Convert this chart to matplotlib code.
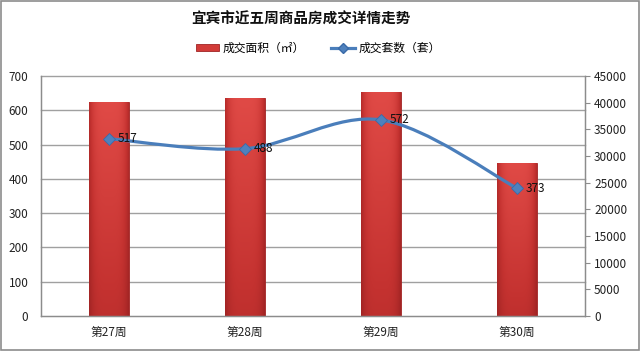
import numpy as np
import matplotlib
matplotlib.use("Agg")
import matplotlib.pyplot as plt
from matplotlib.path import Path
from matplotlib.patches import PathPatch, Rectangle
from matplotlib.lines import Line2D
from matplotlib.transforms import blended_transform_factory

plt.rcParams["font.family"] = ["Noto Sans CJK SC", "DejaVu Sans"]

# 数据
weeks = ["第27周", "第28周", "第29周", "第30周"]
area = [40100, 40900, 42000, 28700]      # 成交面积（㎡），右轴
units = [517, 488, 572, 373]             # 成交套数（套），左轴
left_ticks = [0, 100, 200, 300, 400, 500, 600, 700]
right_ticks = [0, 5000, 10000, 15000, 20000, 25000, 30000, 35000, 40000, 45000]

fig = plt.figure(figsize=(6.4, 3.51), dpi=100)
fig.patch.set_facecolor("white")
fig.add_artist(Rectangle((0.002, 0.003), 0.996, 0.994, transform=fig.transFigure,
                         fill=False, edgecolor="#8c8c8c", linewidth=1.2))

ax = fig.add_axes([41 / 640, 35 / 351, 544 / 640, 240 / 351])
ax2 = ax.twinx()
ax.set_zorder(ax2.get_zorder() + 1)
ax.patch.set_visible(False)
ax2.patch.set_visible(True)
ax2.patch.set_facecolor("white")

x = np.arange(len(weeks))

# 网格线（按左轴刻度）画在柱子下面
tr = blended_transform_factory(ax2.transAxes, ax.transData)
for t in left_ticks[1:]:
    ax2.plot([0, 1], [t, t], transform=tr, color="#a0a0a0", lw=1.0, zorder=0.5,
             clip_on=False)

# 柱子（带渐变）
bw = 0.29
bars = ax2.bar(x, area, width=bw, color="#d23b38", edgecolor="#a02424",
               linewidth=0.6, zorder=2)
grad = np.linspace(0, 1, 64).reshape(-1, 1)
hgrad = np.abs(np.linspace(-1, 1, 64)).reshape(1, -1)
cmap = matplotlib.colors.LinearSegmentedColormap.from_list(
    "r", ["#9c2222", "#c43230", "#e04a46"])
for b in bars:
    img = 1.0 - 0.55 * hgrad ** 4 - 0.0 * grad
    img = img * (0.55 + 0.45 * grad)
    im = ax2.imshow(img, extent=(b.get_x(), b.get_x() + b.get_width(), 0, b.get_height()),
                    aspect="auto", cmap=cmap, vmin=0.2, vmax=1.0, origin="lower",
                    zorder=2.5)
    im.set_clip_path(b)

ax2.set_ylim(0, 45000)
ax2.set_yticks(right_ticks)
ax2.tick_params(axis="y", direction="out", length=3.5, width=0.8, color="#8c8c8c",
                labelsize=8.5, pad=3, labelcolor="#222222")
ax2.set_xlim(-0.5, 3.5)

# 平滑折线（左轴）
pts = np.column_stack([x, units]).astype(float)
ext = np.vstack([pts[0], pts, pts[-1]])
verts = [tuple(pts[0])]
codes = [Path.MOVETO]
for i in range(len(pts) - 1):
    p0, p1, p2, p3 = ext[i], ext[i + 1], ext[i + 2], ext[i + 3]
    c1 = p1 + (p2 - p0) / 6
    c2 = p2 - (p3 - p1) / 6
    verts += [tuple(c1), tuple(c2), tuple(p2)]
    codes += [Path.CURVE4] * 3
ax.add_patch(PathPatch(Path(verts, codes), fill=False, edgecolor="#4a7ebb",
                       lw=2.3, zorder=3, capstyle="round"))
ax.plot(x, units, linestyle="none", marker="D", markersize=6.5,
        markerfacecolor="#4f81bd", markeredgecolor="#3a6aa8", markeredgewidth=0.6,
        zorder=4)
for xi, v in zip(x, units):
    ax.annotate(str(v), (xi, v), xytext=(6, 0), textcoords="offset points",
                va="center", ha="left", fontsize=8.5, color="#111111", zorder=5)

ax.set_xlim(-0.5, 3.5)
ax.set_ylim(0, 700)
ax.set_yticks(left_ticks)
ax.tick_params(axis="y", length=0, labelsize=8.5, pad=9, labelcolor="#222222")
ax.set_xticks(x)
ax.set_xticklabels(weeks)
ax.tick_params(axis="x", length=0, labelsize=8.5, pad=7, labelcolor="#222222")

for a in (ax, ax2):
    for s in a.spines.values():
        s.set_color("#8c8c8c")
        s.set_linewidth(0.9)
ax.spines["top"].set_visible(False)
ax2.spines["top"].set_visible(False)

fig.text(0.47, 1 - 19 / 351, "宜宾市近五周商品房成交详情走势", ha="center", va="center",
         fontsize=10.5, fontweight="bold", color="#111111")

handles = [Rectangle((0, 0), 1, 1, facecolor="#d23b38", edgecolor="#a02424", lw=0.6),
           Line2D([], [], color="#4a7ebb", lw=2.3, marker="D", markersize=5.5,
                  markerfacecolor="#4f81bd", markeredgecolor="#3a6aa8")]
fig.legend(handles, ["成交面积（㎡）", "成交套数（套）"], loc="center",
           bbox_to_anchor=(318 / 640, 1 - 48 / 351), ncol=2, frameon=False,
           fontsize=8.5, handlelength=2.0, handleheight=0.6, columnspacing=2.2,
           handletextpad=0.3)

fig.savefig("out.png", dpi=100)
